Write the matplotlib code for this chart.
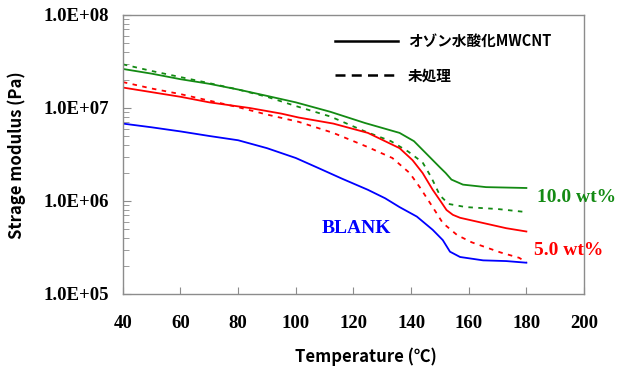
import matplotlib
matplotlib.use("Agg")
import matplotlib.pyplot as plt
from matplotlib.lines import Line2D
from matplotlib.ticker import LogLocator, FuncFormatter, NullFormatter
import numpy as np

# temperature (deg C) and storage modulus (Pa)
t_g10 = [40, 50, 60, 70, 80, 90, 100, 112, 124, 136, 141, 145, 150, 152, 154, 158, 166, 180]
e_g10 = [2.63e7, 2.34e7, 2.04e7, 1.82e7, 1.58e7, 1.35e7, 1.15e7, 9.1e6, 6.9e6, 5.4e6,
         4.4e6, 3.3e6, 2.3e6, 2.0e6, 1.7e6, 1.5e6, 1.41e6, 1.38e6]

t_g10u = [40, 50, 60, 70, 80, 90, 100, 112, 124, 133, 139, 144, 147, 150, 153, 159, 170, 180]
e_g10u = [2.95e7, 2.5e7, 2.15e7, 1.85e7, 1.58e7, 1.32e7, 1.05e7, 8.1e6, 5.6e6, 4.4e6,
          3.4e6, 2.6e6, 1.8e6, 1.15e6, 9.3e5, 8.6e5, 8.2e5, 7.6e5]

t_r5 = [40, 50, 60, 70, 84, 95, 101, 113, 125, 136, 140.5, 144, 147.5, 150, 152.3, 154.5, 157, 165, 173, 180]
e_r5 = [1.66e7, 1.48e7, 1.32e7, 1.15e7, 1.0e7, 8.7e6, 7.9e6, 6.8e6, 5.4e6, 3.7e6,
        2.75e6, 2.0e6, 1.32e6, 1.02e6, 8.0e5, 7.1e5, 6.6e5, 5.8e5, 5.1e5, 4.7e5]

t_r5u = [40, 50, 60, 70, 80, 90, 101, 113, 125, 133.5, 139.5, 143, 147.5, 151, 156, 161, 171, 177.5, 180]
e_r5u = [1.9e7, 1.62e7, 1.41e7, 1.2e7, 1.02e7, 8.5e6, 7.1e6, 5.4e6, 3.8e6, 2.9e6,
         2.0e6, 1.41e6, 8.6e5, 5.8e5, 4.3e5, 3.6e5, 2.8e5, 2.45e5, 2.2e5]

t_blank = [40, 50, 60, 70, 80, 90, 100, 108, 116, 125, 131, 136, 142, 147.5, 151, 153.5, 157, 165, 173, 180]
e_blank = [6.8e6, 6.2e6, 5.6e6, 5.0e6, 4.5e6, 3.7e6, 2.9e6, 2.25e6, 1.74e6, 1.32e6,
           1.07e6, 8.6e5, 6.8e5, 4.9e5, 3.8e5, 2.85e5, 2.5e5, 2.3e5, 2.26e5, 2.17e5]

x_ticks = [40, 60, 80, 100, 120, 140, 160, 180, 200]

green = '#138a13'
red = '#ff0000'
blue = '#0000ff'
jp = ['Noto Sans CJK JP', 'DejaVu Sans']

# tick labels and annotations are Times-like bold
plt.rcParams['font.family'] = 'Liberation Serif'
plt.rcParams['font.weight'] = 'bold'

fig = plt.figure(figsize=(6.3, 3.75), dpi=100)
ax = fig.add_axes([0.195, 0.216, 0.732, 0.744])

dash = (0, (2.5, 3))
ax.plot(t_g10, e_g10, color=green, lw=1.3)
ax.plot(t_g10u, e_g10u, color=green, lw=1.3, ls=dash)
ax.plot(t_r5, e_r5, color=red, lw=1.3)
ax.plot(t_r5u, e_r5u, color=red, lw=1.3, ls=dash)
ax.plot(t_blank, e_blank, color=blue, lw=1.3)

ax.set_yscale('log')
ax.set_xlim(40, 200)
ax.set_ylim(1e5, 1e8)
ax.set_xticks(x_ticks)
ax.yaxis.set_major_locator(LogLocator(base=10, numticks=10))
ax.yaxis.set_minor_locator(LogLocator(base=10, subs=np.arange(2, 10), numticks=10))
ax.yaxis.set_major_formatter(FuncFormatter(lambda v, p: '1.0E+%02d' % round(np.log10(v))))
ax.yaxis.set_minor_formatter(NullFormatter())

for s in ax.spines.values():
    s.set_color('#8c8c8c')
    s.set_linewidth(1.0)

ax.tick_params(axis='x', direction='in', length=5, color='#8c8c8c', pad=15, labelsize=13.5)
ax.tick_params(axis='y', which='major', direction='in', length=6, color='#8c8c8c', pad=10,
               labelsize=13.5)
ax.tick_params(axis='y', which='minor', direction='in', length=4, color='#8c8c8c')

ax.set_xlabel('Temperature (℃)', fontfamily=jp, fontweight='bold', fontsize=12)
ax.set_ylabel('Strage modulus (Pa)', fontfamily=jp, fontweight='bold', fontsize=12)
ax.xaxis.set_label_coords(0.527, -0.19)
ax.yaxis.set_label_coords(-0.21, 0.498)

ax.text(183.8, 10**6.043, '10.0 wt%', color=green, fontsize=14, va='center', ha='left',
        clip_on=False)
ax.text(182.8, 10**5.473, '5.0 wt%', color=red, fontsize=14, va='center', ha='left',
        clip_on=False)
ax.text(108.9, 10**5.704, 'BLANK', color=blue, fontsize=14, va='center', ha='left')

handles = [Line2D([], [], color='black', lw=1.8),
           Line2D([], [], color='black', lw=1.8, ls=(0, (4, 2.5)))]
leg = ax.legend(handles, ['オゾン水酸化MWCNT', '未処理'], loc='upper left',
                bbox_to_anchor=(0.46, 0.935), frameon=False, borderaxespad=0,
                borderpad=0, handlelength=4.3, handletextpad=0.7, labelspacing=1.25,
                prop={'family': jp, 'weight': 'bold', 'size': 10.5})

fig.savefig('out.png', dpi=100)
